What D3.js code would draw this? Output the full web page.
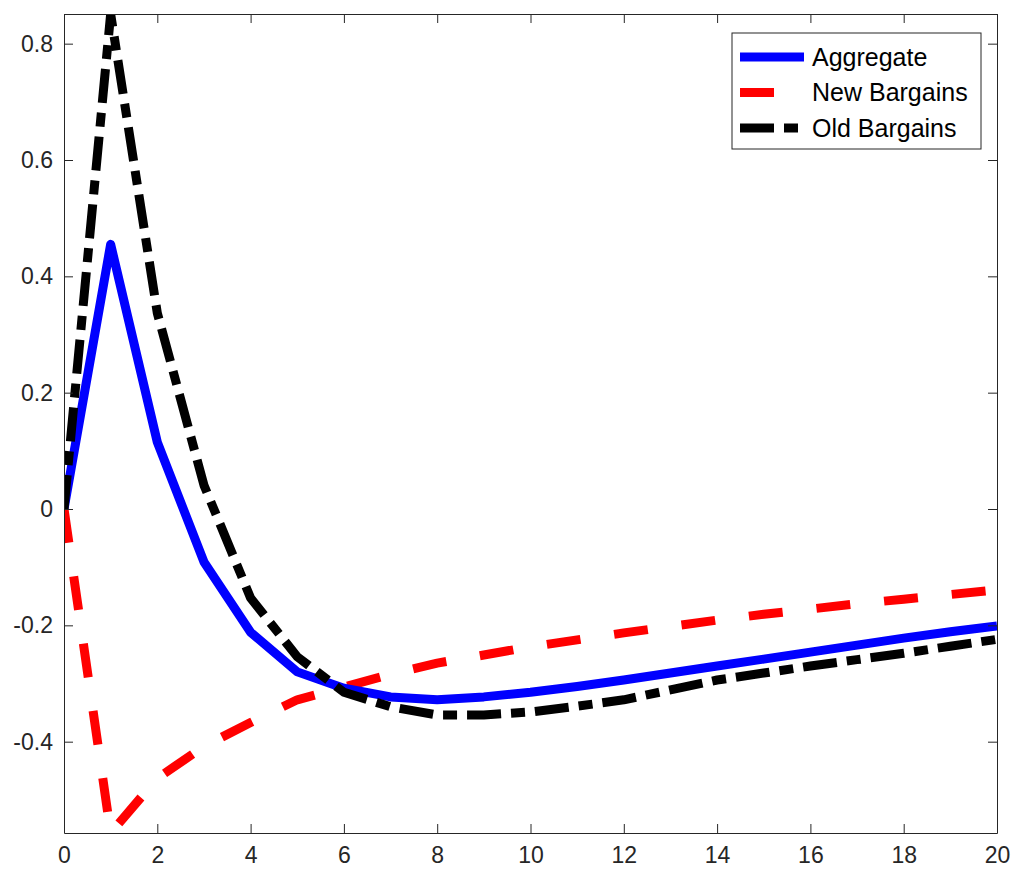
<!DOCTYPE html>
<html lang="en">
  <head>
    <meta charset="utf-8">
    <title>Bargains</title>
    <style>
      body { margin: 0; background: #fff; }
      text { font-family: "Liberation Sans", Arial, sans-serif; }
    </style>
    <script src="https://cdn.jsdelivr.net/npm/d3@7"></script>
  </head>
  <body>

    <div id="viz"></div>

    <script>

    // quarters after shock
    var periods = d3.range(0, 21);

    var aggregate   = [0, 0.455, 0.115, -0.091, -0.212, -0.280, -0.308, -0.323, -0.328, -0.323, -0.315,
                       -0.305, -0.294, -0.282, -0.270, -0.258, -0.246, -0.234, -0.222, -0.211, -0.201];
    var newBargains = [0, -0.557, -0.463, -0.408, -0.367, -0.328, -0.306, -0.284, -0.265, -0.251, -0.237,
                       -0.225, -0.213, -0.202, -0.191, -0.181, -0.172, -0.163, -0.155, -0.147, -0.139];
    var oldBargains = [0, 0.851, 0.337, 0.041, -0.153, -0.254, -0.315, -0.340, -0.354, -0.354, -0.349,
                       -0.339, -0.328, -0.311, -0.294, -0.282, -0.270, -0.259, -0.248, -0.236, -0.224];

    var xTicks = d3.range(0, 21, 2);
    var yTicks = [-0.4, -0.2, 0, 0.2, 0.4, 0.6, 0.8];
    var yDomain = [-0.557, 0.851];

    var seriesNames = ['Aggregate', 'New Bargains', 'Old Bargains'];

    var W = 1015, H = 878;
    var pLeft = 64, pRight = 997, pTop = 14, pBottom = 833;
    var axisColor = '#262626';

    var svg = d3.select('#viz')
        .append('svg')
        .attr('width', W)
        .attr('height', H);

    var x = d3.scaleLinear().domain([0, 20]).range([pLeft, pRight]);
    var y = d3.scaleLinear().domain(yDomain).range([pBottom, pTop]);

    svg.append('clipPath').attr('id', 'plotclip')
      .append('rect')
        .attr('x', pLeft).attr('y', pTop)
        .attr('width', pRight - pLeft).attr('height', pBottom - pTop);

    var lines = [
      { name: seriesNames[1], values: newBargains, color: '#ff0000', dash: '34,34' },
      { name: seriesNames[0], values: aggregate,   color: '#0000ff', dash: null },
      { name: seriesNames[2], values: oldBargains, color: '#000000', dash: '34,10,14,10' }
    ];

    var line = d3.line()
        .x(function(d, i) { return x(periods[i]); })
        .y(function(d) { return y(d); });

    var plot = svg.append('g').attr('clip-path', 'url(#plotclip)');

    lines.forEach(function(s) {
      plot.append('path')
        .datum(s.values)
        .attr('d', line)
        .attr('fill', 'none')
        .attr('stroke', s.color)
        .attr('stroke-width', 9)
        .attr('stroke-linejoin', 'round')
        .attr('stroke-dasharray', s.dash);
    });

    // axes, ticks pointing inward on all four sides
    var fmtY = function(d) { return d === 0 ? '0' : d3.format('.1f')(d).replace('\u2212', '-'); };

    function styleAxis(g) {
      g.selectAll('path.domain').attr('stroke', axisColor).attr('stroke-width', 1);
      g.selectAll('.tick line').attr('stroke', axisColor);
      g.selectAll('.tick text')
        .attr('fill', axisColor)
        .style('font-family', '"Liberation Sans", Arial, sans-serif')
        .style('font-size', '23px');
    }

    svg.append('g')
      .attr('transform', 'translate(0,' + pBottom + ')')
      .call(d3.axisBottom(x).tickValues(xTicks).tickSize(-9).tickPadding(14).tickSizeOuter(0))
      .call(styleAxis);

    svg.append('g')
      .attr('transform', 'translate(0,' + pTop + ')')
      .call(d3.axisTop(x).tickValues(xTicks).tickSize(-9).tickFormat('').tickSizeOuter(0))
      .call(styleAxis);

    svg.append('g')
      .attr('transform', 'translate(' + pLeft + ',0)')
      .call(d3.axisLeft(y).tickValues(yTicks).tickSize(-9).tickPadding(11).tickFormat(fmtY).tickSizeOuter(0))
      .call(styleAxis);

    svg.append('g')
      .attr('transform', 'translate(' + pRight + ',0)')
      .call(d3.axisRight(y).tickValues(yTicks).tickSize(-9).tickFormat('').tickSizeOuter(0))
      .call(styleAxis);

    // legend
    var legend = svg.append('g').attr('transform', 'translate(732,33)');
    legend.append('rect')
      .attr('width', 249).attr('height', 116)
      .attr('fill', '#fff')
      .attr('stroke', axisColor)
      .attr('stroke-width', 1);

    var legendItems = [lines[1], lines[0], lines[2]];
    legendItems.forEach(function(s, i) {
      var cy = 24 + i * 35.5;
      legend.append('line')
        .attr('x1', 8).attr('x2', 72)
        .attr('y1', cy).attr('y2', cy)
        .attr('stroke', s.color)
        .attr('stroke-width', 9)
        .attr('stroke-dasharray', s.dash);
      legend.append('text')
        .attr('x', 80).attr('y', cy)
        .attr('dy', '0.35em')
        .attr('fill', '#000')
        .style('font-size', '25px')
        .text(s.name);
    });

    </script>
  </body>
</html>
